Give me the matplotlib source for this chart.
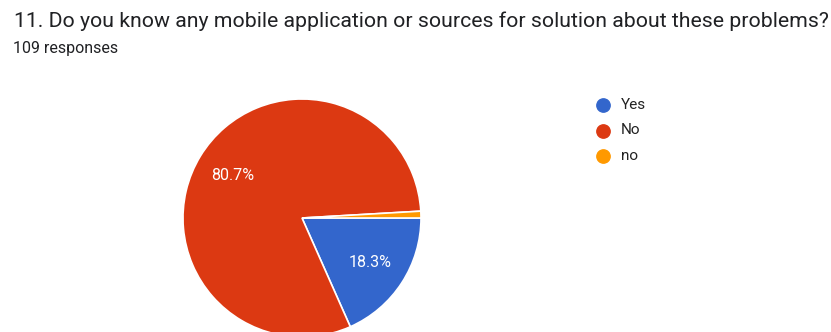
import matplotlib
matplotlib.use("Agg")
import matplotlib.pyplot as plt
from matplotlib.lines import Line2D

plt.rcParams['font.family'] = ['Roboto', 'DejaVu Sans']

title = "11. Do you know any mobile application or sources for solution about these problems?"
subtitle = "109 responses"
labels = ["Yes", "No", "no"]
counts = [20, 88, 1]
colors = ["#3366CC", "#DC3912", "#FF9900"]

W, H = 831, 332
fig = plt.figure(figsize=(W / 100, H / 100), dpi=100)
fig.patch.set_facecolor("white")

# pie geometry in pixels
cx, cy, r = 302, 218, 119
ax = fig.add_axes([(cx - r) / W, (H - cy - r) / H, 2 * r / W, 2 * r / H])
wedges, texts, autotexts = ax.pie(
    counts, colors=colors, startangle=0, counterclock=False,
    autopct=lambda p: f"{p:.1f}%" if p > 5 else "",
    pctdistance=0.68, radius=1.0,
    wedgeprops=dict(edgecolor="white", linewidth=1.2),
    textprops=dict(color="white", fontsize=11.5),
)
ax.set_xlim(-1, 1)
ax.set_ylim(-1, 1)
ax.set_aspect("equal")
ax.axis("off")

fig.text(14 / W, 1 - 27.3 / H, title, fontsize=15.3, color="#202124",
         va="baseline", ha="left")
fig.text(13 / W, 1 - 53.3 / H, subtitle, fontsize=11.5, color="#202124",
         va="baseline", ha="left")

# legend
for i, (lab, col) in enumerate(zip(labels, colors)):
    y = 1 - (105 + 25.5 * i) / H
    fig.add_artist(Line2D([603 / W], [y], marker="o", markersize=9.6, color=col,
                          markeredgecolor=col, linestyle="none"))
    fig.text(621 / W, y, lab, fontsize=11, color="#222222", va="center", ha="left")

fig.savefig("out.png", dpi=100, facecolor="white")
